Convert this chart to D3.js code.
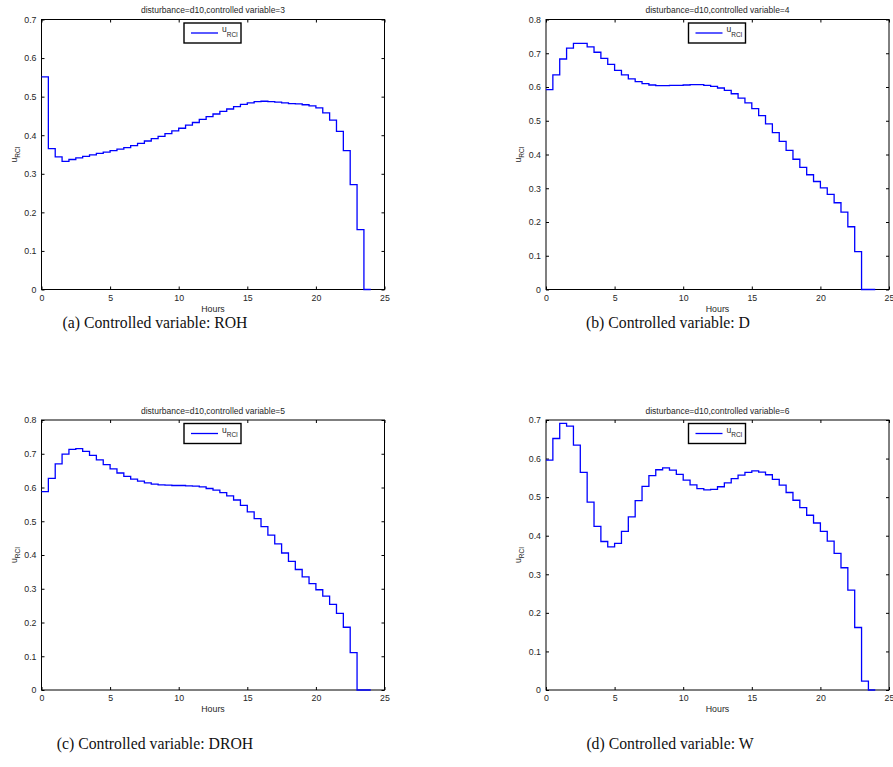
<!DOCTYPE html>
<html>
<head>
<meta charset="utf-8">
<script src="https://cdn.jsdelivr.net/npm/d3@7"></script>
<style>
  html, body { margin: 0; padding: 0; background: #fff; }
  svg { display: block; }
</style>
</head>
<body>
<svg id="chart" width="893" height="767"></svg>
<script>
// ---- Data ----
// start of each half-hour interval, hours
const stepStarts = d3.range(0, 24, 0.5);
const endHour = 24;

const valuesROH = [0.551,0.365,0.344,0.332,0.337,0.341,0.345,0.349,0.353,0.356,
  0.360,0.364,0.368,0.373,0.379,0.385,0.391,0.397,0.404,0.411,
  0.418,0.426,0.433,0.441,0.448,0.455,0.462,0.468,0.474,0.480,
  0.484,0.487,0.488,0.487,0.486,0.484,0.482,0.481,0.479,0.476,
  0.471,0.458,0.439,0.410,0.360,0.272,0.155,0];

const valuesD = [0.592,0.636,0.683,0.715,0.729,0.729,0.719,0.703,0.685,0.667,
  0.649,0.636,0.624,0.616,0.610,0.606,0.604,0.604,0.605,0.605,
  0.606,0.607,0.607,0.605,0.602,0.597,0.590,0.580,0.567,0.553,
  0.536,0.515,0.491,0.465,0.439,0.412,0.386,0.362,0.340,0.320,
  0.301,0.282,0.257,0.229,0.186,0.112,0,0];

const valuesDROH = [0.588,0.627,0.670,0.699,0.713,0.715,0.707,0.695,0.682,0.668,
  0.655,0.643,0.633,0.625,0.619,0.614,0.610,0.608,0.607,0.606,
  0.606,0.605,0.604,0.602,0.597,0.592,0.585,0.575,0.563,0.547,
  0.528,0.508,0.484,0.459,0.433,0.406,0.381,0.357,0.335,0.315,
  0.297,0.278,0.254,0.227,0.186,0.111,0,0];

const valuesW = [0.596,0.652,0.691,0.684,0.635,0.564,0.487,0.424,0.385,0.371,
  0.380,0.411,0.449,0.491,0.528,0.556,0.571,0.576,0.570,0.559,
  0.544,0.532,0.522,0.519,0.520,0.527,0.537,0.548,0.557,0.564,
  0.568,0.565,0.558,0.546,0.531,0.512,0.492,0.473,0.453,0.433,
  0.411,0.386,0.354,0.317,0.259,0.162,0.023,0];

const xTicks = [0, 5, 10, 15, 20, 25];
const yTicks07 = [0, 0.1, 0.2, 0.3, 0.4, 0.5, 0.6, 0.7];
const yTicks08 = [0, 0.1, 0.2, 0.3, 0.4, 0.5, 0.6, 0.7, 0.8];
const controlledVariables = [3, 4, 5, 6];
const captions = ["(a) Controlled variable: ROH", "(b) Controlled variable: D",
                  "(c) Controlled variable: DROH", "(d) Controlled variable: W"];
const seriesList = [valuesROH, valuesD, valuesDROH, valuesW];
const yTickSets = [yTicks07, yTicks08, yTicks08, yTicks07];

// ---- Layout ----
const plotW = 343, plotH = 270;
const origins = [[41.5, 19.5], [546, 19.5], [41.5, 420], [546, 420]];
const captionPos = [[155, 328], [668, 328], [155, 749], [670, 749]];
const sans = '"Liberation Sans", Arial, Helvetica, sans-serif';
const textCol = "#262626";

const svg = d3.select("#chart");

seriesList.forEach((vals, i) => {
  const [L, T] = origins[i];
  const yT = yTickSets[i];
  const x = d3.scaleLinear().domain([0, 25]).range([0, plotW]);
  const y = d3.scaleLinear().domain([0, yT[yT.length - 1]]).range([plotH, 0]);
  const g = svg.append("g").attr("transform", `translate(${L},${T})`);

  // axes (MATLAB-like: ticks inward on all four sides)
  const fmt = d => String(+d.toFixed(1));
  const axB = g.append("g").attr("transform", `translate(0,${plotH})`)
    .call(d3.axisBottom(x).tickValues(xTicks).tickSize(-3).tickPadding(5).tickFormat(fmt));
  const axT = g.append("g")
    .call(d3.axisTop(x).tickValues(xTicks).tickSize(-3).tickFormat(""));
  const axL = g.append("g")
    .call(d3.axisLeft(y).tickValues(yT).tickSize(-3).tickPadding(5).tickFormat(fmt));
  const axR = g.append("g").attr("transform", `translate(${plotW},0)`)
    .call(d3.axisRight(y).tickValues(yT).tickSize(-3).tickFormat(""));
  [axB, axT, axL, axR].forEach(a => {
    a.select(".domain").remove();
    a.selectAll(".tick line").attr("stroke", "#000").attr("stroke-width", 1);
    a.selectAll(".tick text").attr("fill", textCol).style("font-size", "8.8px")
      .style("font-family", sans);
  });

  // box
  g.append("rect").attr("x", 0).attr("y", 0).attr("width", plotW).attr("height", plotH)
    .attr("fill", "none").attr("stroke", "#000").attr("stroke-width", 1);

  // stairs line
  const pts = stepStarts.map((t, k) => [t, vals[k]]);
  pts.push([endHour, vals[vals.length - 1]]);
  const line = d3.line().x(d => x(d[0])).y(d => y(d[1])).curve(d3.curveStepAfter);
  g.append("path").datum(pts).attr("d", line)
    .attr("fill", "none").attr("stroke", "#0000ff").attr("stroke-width", 1.3);

  // title
  g.append("text").attr("x", plotW / 2).attr("y", -6.5).attr("text-anchor", "middle")
    .attr("fill", textCol).style("font-family", sans).style("font-size", "8.5px")
    .text(`disturbance=d10,controlled variable=${controlledVariables[i]}`);

  // x label
  g.append("text").attr("x", plotW / 2).attr("y", plotH + 22).attr("text-anchor", "middle")
    .attr("fill", textCol).style("font-family", sans).style("font-size", "8.8px")
    .text("Hours");

  // y label
  const yl = g.append("text").attr("transform", `translate(-25,${plotH / 2}) rotate(-90)`)
    .attr("text-anchor", "middle").attr("fill", textCol)
    .style("font-family", sans).style("font-size", "8.8px");
  yl.append("tspan").text("u");
  yl.append("tspan").attr("dy", 3).style("font-size", "6.5px").text("RCI");

  // legend
  const lg = g.append("g").attr("transform", "translate(142.5,3.5)");
  lg.append("rect").attr("width", 57).attr("height", 20)
    .attr("fill", "#fff").attr("stroke", "#000").attr("stroke-width", 1.4);
  lg.append("line").attr("x1", 7).attr("x2", 34).attr("y1", 10).attr("y2", 10)
    .attr("stroke", "#0000ff").attr("stroke-width", 1.3);
  const lt = lg.append("text").attr("x", 38).attr("y", 9).attr("fill", textCol)
    .style("font-family", sans).style("font-size", "8.5px");
  lt.append("tspan").text("u");
  lt.append("tspan").attr("dy", 4.5).style("font-size", "6.5px").text("RCI");
});

// captions (condensed serif look)
captions.forEach((c, i) => {
  const t = svg.append("text").attr("x", captionPos[i][0]).attr("y", captionPos[i][1])
    .attr("text-anchor", "middle").attr("fill", "#111")
    .style("font-family", '"Liberation Serif", "DejaVu Serif", serif')
    .style("font-size", "17.5px").text(c);
  const w = t.node().getComputedTextLength();
  t.attr("textLength", w * 0.9).attr("lengthAdjust", "spacingAndGlyphs");
});
</script>
</body>
</html>
